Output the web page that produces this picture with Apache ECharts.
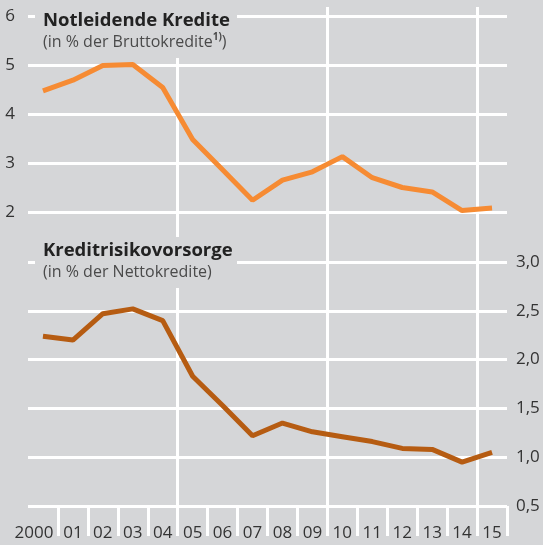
<!DOCTYPE html>
<html>
<head>
<meta charset="utf-8">
<script src="https://cdn.jsdelivr.net/npm/echarts@6/dist/echarts.min.js"></script>
<style>
  html, body { margin: 0; padding: 0; background: #d5d6d8; }
  #chart { width: 543px; height: 545px; }
</style>
</head>
<body>
<div id="chart"></div>
<script>
// Notleidende Kredite / Kreditrisikovorsorge, 2000–2015

const years = ['2000', '01', '02', '03', '04', '05', '06', '07', '08', '09', '10', '11', '12', '13', '14', '15'];

// % der Bruttokredite
const notleidend = [4.47, 4.69, 4.99, 5.01, 4.54, 3.48, 2.86, 2.24, 2.65, 2.82, 3.13, 2.70, 2.50, 2.41, 2.03, 2.08];

// % der Nettokredite
const vorsorge = [2.24, 2.20, 2.47, 2.52, 2.40, 1.83, 1.53, 1.22, 1.35, 1.26, 1.21, 1.16, 1.09, 1.08, 0.95, 1.05];

const topTicks = [2, 6, 1];        // min, max, step
const bottomTicks = [0.5, 3.0, 0.5];

const BG = '#d5d6d8';
const FONT = 'Open Sans';
const COLORS = {
  orange: '#f68b33',
  brown: '#b65c12',
  grid: '#ffffff',
  text: '#333333',
};

const chart = echarts.init(document.getElementById('chart'));

const hiddenX = (gridIndex) => ({
  type: 'category', data: years, gridIndex: gridIndex, boundaryGap: true, show: false,
});

function makeTitle(top, head, sub) {
  return {
    left: 35, top: top,
    backgroundColor: BG,
    padding: [top === 0 ? 9 : 4, 4, 8, 8],
    text: head + '\n' + sub,
    textStyle: {
      fontWeight: 'normal',
      rich: {
        t: { fontFamily: FONT, fontSize: 18.5, fontWeight: 'bold', color: '#222', lineHeight: 23, width: 190 },
        s: { fontFamily: FONT, fontSize: 16, fontWeight: 'normal', color: '#4a4a4a', lineHeight: 20 },
        sup: { fontFamily: FONT, fontSize: 10, fontWeight: 'bold', color: '#4a4a4a', lineHeight: 12, verticalAlign: 'top' },
      },
    },
  };
}

const option = {
  backgroundColor: BG,
  animation: false,
  textStyle: { fontFamily: FONT },
  title: [
    makeTitle(0, '{t|Notleidende Kredite}', '{s|(in % der Bruttokredite}{sup|1)}{s|)}'),
    makeTitle(235, '{t|Kreditrisikovorsorge}', '{s|(in % der Nettokredite)}'),
  ],
  grid: [
    { left: 28, right: 36, top: 7, bottom: 39 },      // vertical lines + year labels
    { left: 28, right: 36, top: 16, height: 196 },    // Notleidende Kredite
    { left: 28, right: 36, top: 262, bottom: 39 },    // Kreditrisikovorsorge
  ],
  xAxis: [
    {
      type: 'category', data: years, gridIndex: 0, boundaryGap: true, offset: 9,
      axisLine: { show: false },
      axisTick: {
        show: true, length: 30,
        interval: (i) => i !== 0,
        lineStyle: { color: COLORS.grid, width: 3 },
      },
      axisLabel: {
        interval: 0, margin: 10, fontSize: 17, color: COLORS.text,
        formatter: (v) => v === '2000' ? '{first|' + v + '}' : v,
        rich: { first: { fontSize: 17, color: COLORS.text, padding: [0, 18, 0, 0] } },
      },
      splitLine: {
        show: true,
        interval: (i) => i === 5 || i === 10 || i === 15,
        // the closing edge of the axis also gets a line; keep it invisible
        lineStyle: { color: [COLORS.grid, COLORS.grid, COLORS.grid, 'rgba(0,0,0,0)'], width: 3 },
      },
    },
    hiddenX(1),
    hiddenX(2),
  ],
  yAxis: [
    {
      type: 'value', gridIndex: 1, position: 'left',
      min: topTicks[0], max: topTicks[1], interval: topTicks[2],
      axisLine: { show: false }, axisTick: { show: false },
      axisLabel: { margin: 13, fontSize: 17, color: COLORS.text },
      splitLine: { lineStyle: { color: COLORS.grid, width: 3 } },
    },
    {
      type: 'value', gridIndex: 2, position: 'right',
      min: bottomTicks[0], max: bottomTicks[1], interval: bottomTicks[2],
      axisLine: { show: false }, axisTick: { show: false },
      axisLabel: {
        margin: 9, fontSize: 17, color: COLORS.text,
        formatter: (v) => v.toFixed(1).replace('.', ','),
      },
      splitLine: { lineStyle: { color: COLORS.grid, width: 3 } },
    },
    { type: 'value', gridIndex: 0, show: false, splitLine: { show: false } },
  ],
  series: [
    {
      name: 'Notleidende Kredite', type: 'line', xAxisIndex: 1, yAxisIndex: 0,
      data: notleidend, symbol: 'none', smooth: false,
      lineStyle: { color: COLORS.orange, width: 5 }, z: 5,
    },
    {
      name: 'Kreditrisikovorsorge', type: 'line', xAxisIndex: 2, yAxisIndex: 1,
      data: vorsorge, symbol: 'none', smooth: false,
      lineStyle: { color: COLORS.brown, width: 5 }, z: 5,
    },
  ],
};

chart.setOption(option);
</script>
</body>
</html>
